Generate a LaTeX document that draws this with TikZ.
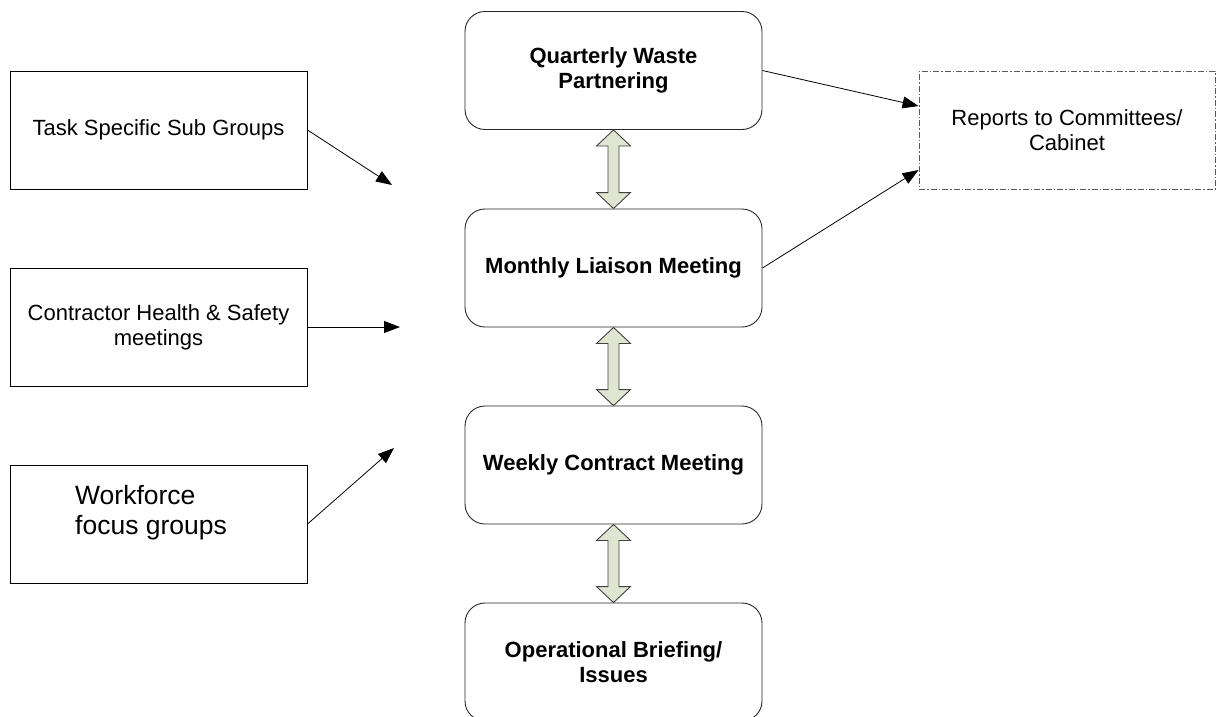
\documentclass[tikz,border=0pt]{standalone}
\usepackage{fontspec}
\setmainfont{Liberation Sans}
\usetikzlibrary{arrows.meta,calc}
\definecolor{arrfill}{HTML}{E0E5D1}
\definecolor{arredge}{HTML}{404040}
\tikzset{
 base/.style={font=\fontsize{22}{25.3}\selectfont, align=center, inner sep=0pt},
 rbox/.style={base, font=\fontsize{22}{25.3}\selectfont\bfseries, draw=black!85, line width=0.9pt, rounded corners=20pt, minimum width=297pt, minimum height=118pt},
 sbox/.style={base, draw=black, line width=1pt, minimum width=297pt, minimum height=118pt},
 dbox/.style={base, draw=black!65, line width=0.9pt, dash pattern=on 6pt off 2pt on 1.5pt off 2pt, minimum width=296pt, minimum height=118pt},
 arr/.style={line width=0.8pt, -{Triangle[length=16pt,width=12pt]}},
 twoway/.style={fill=arrfill, draw=arredge, line width=0.9pt, line join=miter},
}
\newcommand\linkpair[2]{%
 \draw[twoway] let \p1=(#1.south), \p2=(#2.north) in
 (\p1) -- (\x1+17pt,\y1-16pt) -- (\x1+5.5pt,\y1-16pt) -- (\x1+5.5pt,\y2+16pt) -- (\x1+17pt,\y2+16pt) -- (\p2) -- (\x1-17pt,\y2+16pt) -- (\x1-5.5pt,\y2+16pt) -- (\x1-5.5pt,\y1-16pt) -- (\x1-17pt,\y1-16pt) -- cycle;}
\begin{document}
\begin{tikzpicture}[x=1pt,y=-1pt]
\useasboundingbox (0,0) rectangle (1220,716);
\clip (0,0) rectangle (1220,716);
% central column
\node[rbox] (q) at (613.5,70.5) {Quarterly Waste\\Partnering};
\node[rbox] (m) at (613.5,268) {Monthly Liaison Meeting};
\node[rbox] (w) at (613.5,465) {Weekly Contract Meeting};
\node[rbox] (o) at (613.5,662) {Operational Briefing/\\Issues};
% left boxes
\node[sbox] (t) at (158.5,130) {Task Specific Sub Groups};
\node[sbox] (c) at (158.5,327) {Contractor Health \& Safety\\meetings};
\node[sbox] (f) at (158.5,524) {};
\node[base, align=left, anchor=north west, font=\fontsize{26.5}{30}\selectfont] (ft) at (75,485) {Workforce\\focus groups};
% right dashed box
\node[dbox] (r) at (1067,130) {Reports to Committees/\\Cabinet};
% free ends
\coordinate (te) at (392,185);
\coordinate (ce) at (400,327);
\coordinate (fe) at (394,448);
\coordinate (r1) at ($(r.west)+(0,-24)$);
\coordinate (r2) at ($(r.west)+(0,40)$);
% arrows
\draw[arr] (t.east) -- (te);
\draw[arr] (c.east) -- (ce);
\draw[arr] (f.east) -- (fe);
\draw[arr] (q.east) -- (r1);
\draw[arr] (m.east) -- (r2);
% double arrows
\linkpair{q}{m}
\linkpair{m}{w}
\linkpair{w}{o}
\end{tikzpicture}
\end{document}
